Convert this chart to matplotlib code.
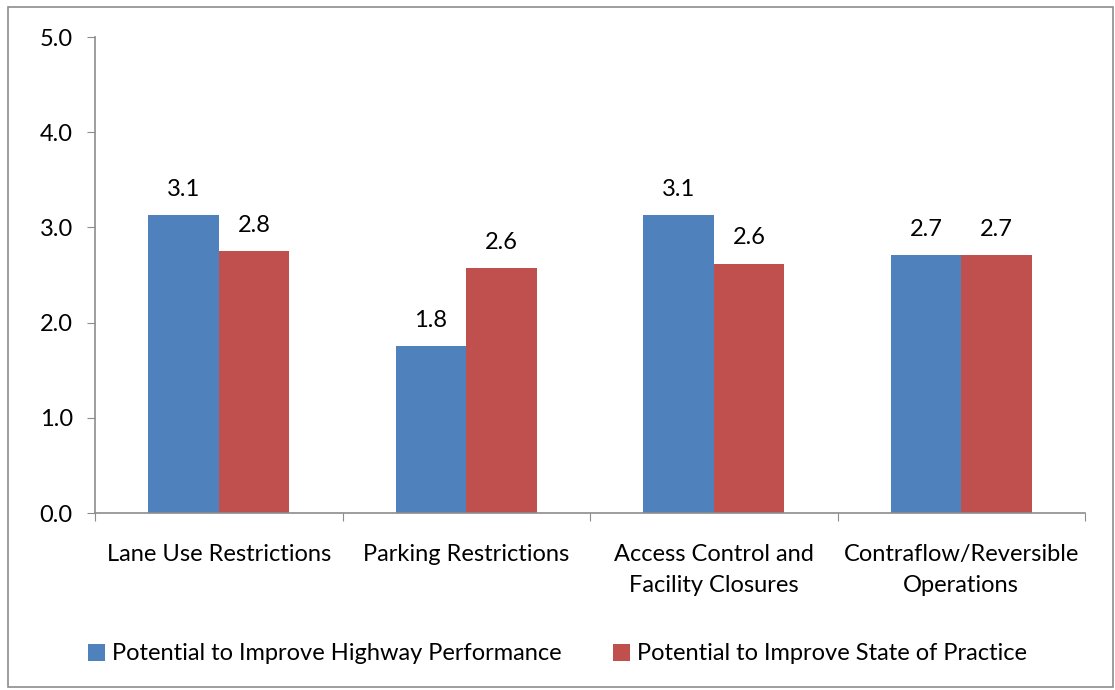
import numpy as np
import matplotlib.pyplot as plt
from matplotlib.patches import Rectangle

categories = ['Lane Use Restrictions', 'Parking Restrictions',
              'Access Control and\nFacility Closures', 'Contraflow/Reversible\nOperations']
performance = [3.13, 1.75, 3.13, 2.71]
practice = [2.75, 2.57, 2.62, 2.71]
series_names = ['Potential to Improve Highway Performance',
                'Potential to Improve State of Practice']

plt.rcParams['font.family'] = ['Lato', 'DejaVu Sans']
fs = 17

fig = plt.figure(figsize=(11.15, 6.9), dpi=100)
ax = fig.add_axes([95/1115, 1-513/690, 990/1115, 476/690])

# outer chart border
fig.patches.append(Rectangle((8/1115, 3/690), 1105/1115, 680/690, transform=fig.transFigure,
                             fill=False, edgecolor='#8c8c8c', linewidth=1.2))

x = np.arange(len(categories))
w = 0.285
b1 = ax.bar(x - w/2, performance, w, color='#4F81BD', label=series_names[0])
b2 = ax.bar(x + w/2, practice, w, color='#C0504D', label=series_names[1])

for bars, vals in [(b1, performance), (b2, practice)]:
    for rect, v in zip(bars, vals):
        ax.text(rect.get_x() + rect.get_width()/2, v + 0.16, f'{v:.1f}',
                ha='center', va='bottom', fontsize=fs)

ax.set_xlim(-0.5, 3.5)
ax.set_ylim(0, 5)
ax.set_yticks(np.arange(0, 5.1, 1.0))
ax.set_yticklabels([f'{t:.1f}' for t in np.arange(0, 5.1, 1.0)], fontsize=fs)
ax.set_xticks(np.arange(-0.5, 4, 1), minor=False)
ax.set_xticklabels([])
ax.set_xticks(x, minor=True)
ax.set_xticklabels(categories, minor=True, fontsize=fs, linespacing=1.6)
ax.tick_params(axis='x', which='minor', length=0, pad=22)
ax.tick_params(axis='x', which='major', length=6, color='#8c8c8c')
ax.tick_params(axis='y', length=6, color='#8c8c8c', pad=10)

for s in ['top', 'right']:
    ax.spines[s].set_visible(False)
for s in ['left', 'bottom']:
    ax.spines[s].set_color('#8c8c8c')
    ax.spines[s].set_linewidth(1.2)

fig.legend(loc='center', bbox_to_anchor=(0.5, 1-654/690), ncol=2, frameon=False,
           fontsize=fs, handlelength=0.7, handleheight=0.7, handletextpad=0.3,
           columnspacing=2.2)

fig.savefig('out.png', dpi=100)
